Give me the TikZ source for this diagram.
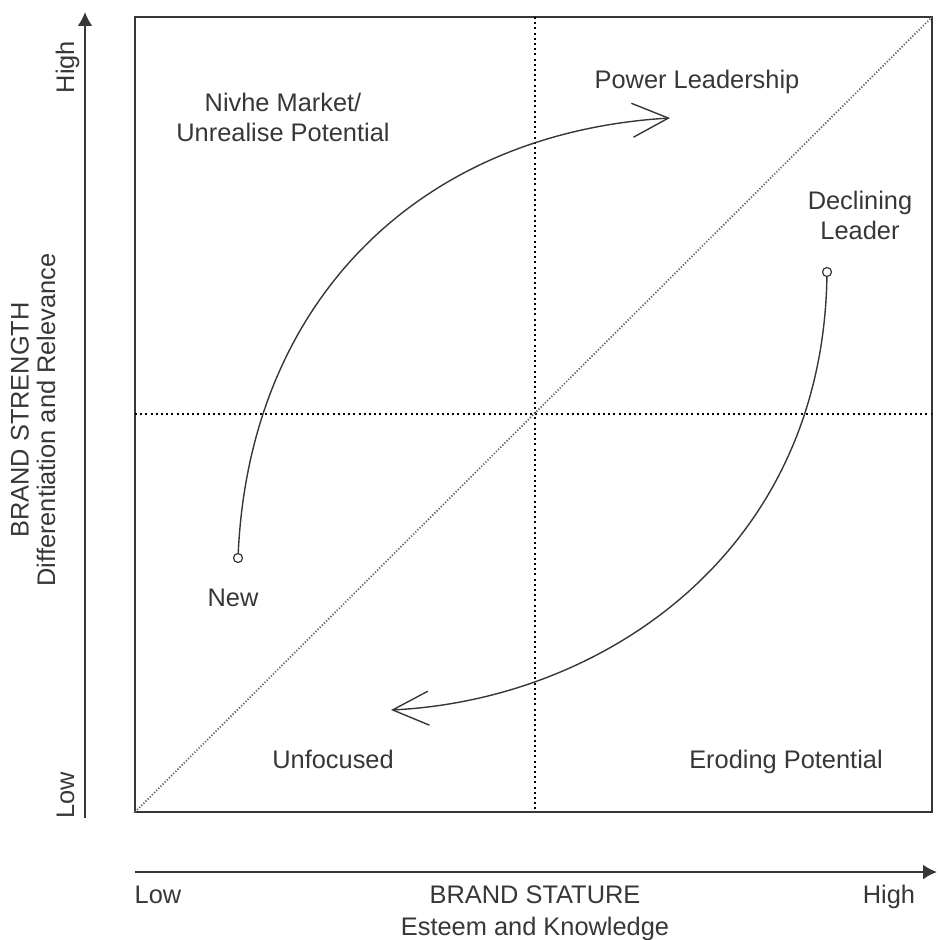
\documentclass[tikz,border=0pt]{standalone}
\usepackage{fontspec}
\setmainfont{Liberation Sans}
\usepackage{tikz}
\usetikzlibrary{arrows.meta,positioning}
\usepackage{xcolor}
\definecolor{bsgray}{RGB}{55,55,55}
\definecolor{bsdiag}{RGB}{100,100,100}
\tikzstyle{lbl} = [font=\fontsize{12.7}{15}\selectfont, text=bsgray, align=center, inner sep=0pt]
\tikzstyle{axisline} = [line width=1pt, color=bsgray, -{Latex[length=7pt,width=7.5pt]}]
\tikzstyle{quadline} = [line width=1pt, dash pattern=on 1pt off 1.6pt]
\tikzstyle{shiftarrow} = [line width=0.7pt, color=bsgray, -{Straight Barb[length=18pt,width=17pt,line width=0.7pt]}]
\tikzstyle{ptmark} = [circle, draw=bsgray, fill=white, line width=0.6pt, inner sep=0pt, minimum size=4.5pt]

\begin{document}
\begin{tikzpicture}[x=0.5pt, y=-0.5pt]
    \useasboundingbox (0,0) rectangle (937,940);

    % Axes
    \coordinate (ybot) at (85,818);
    \coordinate (ytop) at (85,12);
    \coordinate (xleft) at (135,872);
    \coordinate (xright) at (937,872);
    \draw[axisline] (ybot) -- (ytop);
    \draw[axisline] (xleft) -- (xright);

    \node[lbl, rotate=90, anchor=base] (yhigh) at (74,67) {High};
    \node[lbl, rotate=90, anchor=base] (ylow) at (74,795) {Low};
    \node[lbl, rotate=90] (ytitle) at (20,420) {BRAND STRENGTH};
    \node[lbl, rotate=90] (ysub) at (46,420) {Differentiation and Relevance};

    \node[lbl, anchor=base] (xlow) at (158,903) {Low};
    \node[lbl, anchor=base] (xtitle) at (535,903) {BRAND STATURE};
    \node[lbl, anchor=base] (xsub) at (535,935) {Esteem and Knowledge};
    \node[lbl, anchor=base] (xhigh) at (889,903) {High};

    % Matrix
    \draw[line width=1pt, color=bsgray] (135,17) rectangle (932,812);
    \draw[quadline] (535,17) -- (535,812);
    \draw[quadline] (135,414) -- (932,414);
    \draw[color=bsdiag, line width=0.9pt, dash pattern=on 0.6pt off 0.9pt] (135,812) -- (932,17);

    % Quadrants
    \node[lbl] (niche) at (283,117) {Nivhe Market/\\Unrealise Potential};
    \node[lbl, anchor=base] (power) at (697,89) {Power Leadership};
    \node[lbl] (declining) at (860,215) {Declining\\Leader};
    \node[lbl, anchor=base] (new) at (233,606) {New};
    \node[lbl, anchor=base] (unfocused) at (333,768) {Unfocused};
    \node[lbl, anchor=base] (eroding) at (786,768) {Eroding Potential};

    % Moves
    \node[ptmark] (newpt) at (238,558) {};
    \node[ptmark] (declpt) at (827,272) {};
    \coordinate (powerend) at (670,118);
    \coordinate (unfocend) at (391,710);
    \draw[shiftarrow] (newpt) .. controls (250,300) and (420,133) .. (powerend);
    \draw[shiftarrow] (declpt) .. controls (822,555) and (600,700) .. (unfocend);
\end{tikzpicture}
\end{document}
